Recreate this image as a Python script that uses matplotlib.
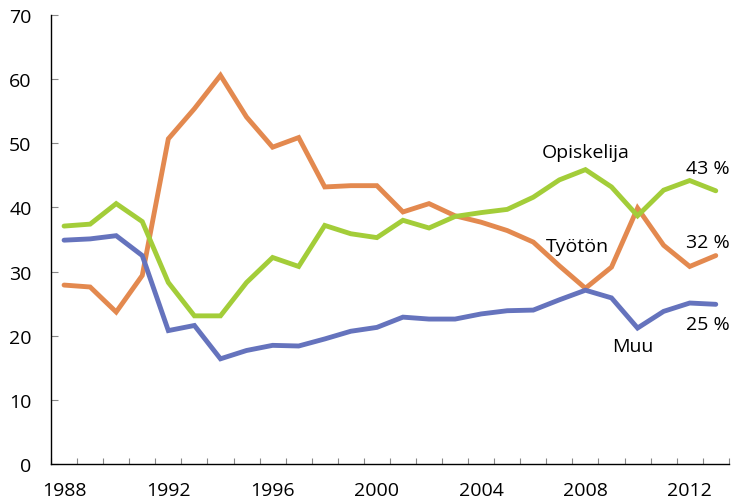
import numpy as np
import matplotlib.pyplot as plt
from matplotlib.ticker import MultipleLocator, FixedLocator

years = list(range(1988, 2014))

opiskelija = [37.1, 37.4, 40.6, 37.8, 28.3, 23.1, 23.1, 28.3, 32.2, 30.8,
              37.2, 35.9, 35.3, 38.0, 36.8, 38.6, 39.2, 39.7, 41.6, 44.3,
              45.9, 43.2, 38.7, 42.7, 44.2, 42.6]
tyoton = [27.9, 27.6, 23.7, 29.4, 50.7, 55.4, 60.6, 54.1, 49.4, 50.9,
          43.2, 43.4, 43.4, 39.3, 40.6, 38.7, 37.7, 36.4, 34.6, 30.9,
          27.4, 30.7, 39.9, 34.1, 30.8, 32.5]
muu = [34.9, 35.1, 35.6, 32.5, 20.8, 21.6, 16.4, 17.7, 18.5, 18.4,
       19.5, 20.7, 21.3, 22.9, 22.6, 22.6, 23.4, 23.9, 24.0, 25.6,
       27.1, 25.9, 21.2, 23.8, 25.1, 24.9]

c_green = '#a3cd39'
c_orange = '#e3894f'
c_blue = '#6573bd'

plt.rcParams['font.family'] = ['Open Sans', 'DejaVu Sans']

fig = plt.figure(figsize=(7.31, 5.02), dpi=100)
ax = fig.add_axes([0.0698, 0.0737, 0.9272, 0.8943])

lw = 3.5
ax.plot(years, tyoton, color=c_orange, lw=lw, solid_capstyle='round', solid_joinstyle='miter')
ax.plot(years, opiskelija, color=c_green, lw=lw, solid_capstyle='round', solid_joinstyle='miter')
ax.plot(years, muu, color=c_blue, lw=lw, solid_capstyle='round', solid_joinstyle='miter')

ax.set_xlim(1987.5, 2013.5)
ax.set_ylim(0, 70)

ax.spines['top'].set_visible(False)
ax.spines['right'].set_visible(False)
ax.spines['left'].set_linewidth(1.0)
ax.spines['bottom'].set_linewidth(1.0)

fs = 14
ax.yaxis.set_major_locator(MultipleLocator(10))
ax.tick_params(axis='y', direction='in', length=5, width=0.8, color='#888888',
               pad=14, labelsize=fs)

ax.xaxis.set_major_locator(FixedLocator([1988, 1992, 1996, 2000, 2004, 2008, 2012]))
ax.xaxis.set_minor_locator(FixedLocator(np.arange(1987.5, 2014, 1.0)))
ax.tick_params(axis='x', which='major', length=0, pad=12, labelsize=fs)
ax.tick_params(axis='x', which='minor', direction='in', length=4.5, width=0.8, color='#888888')

ax.text(2008.0, 48.7, 'Opiskelija', fontsize=fs, ha='center', va='center')
ax.text(2012.7, 46.2, '43 %', fontsize=fs, ha='center', va='center')
ax.text(2007.7, 34.0, 'Työtön', fontsize=fs, ha='center', va='center')
ax.text(2012.7, 34.6, '32 %', fontsize=fs, ha='center', va='center')
ax.text(2012.7, 21.8, '25 %', fontsize=fs, ha='center', va='center')
ax.text(2009.8, 18.4, 'Muu', fontsize=fs, ha='center', va='center')

fig.savefig('out.png', dpi=100)
